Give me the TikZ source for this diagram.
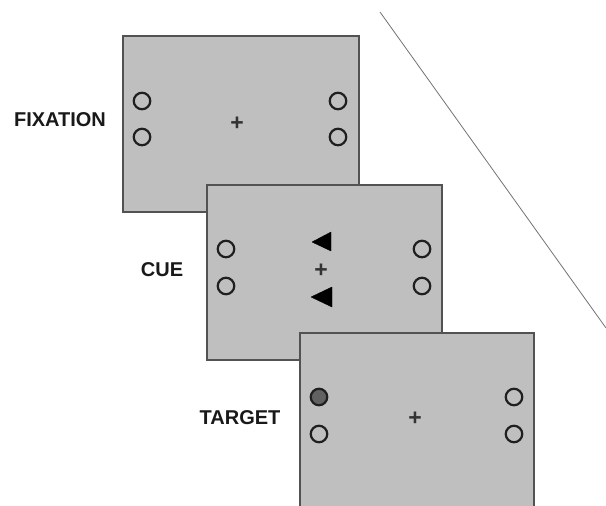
\documentclass[tikz,border=0pt]{standalone}
\usepackage{fontspec}
\setmainfont{Liberation Sans}
\begin{document}
\begin{tikzpicture}[x=1pt,y=-1pt,
  panel/.style={draw=black!68, line width=1.8pt, fill=black!25, rectangle,
    inner sep=0pt, outer sep=0pt},
  ring/.style={draw=black!88, line width=2.2pt, circle, minimum size=16.5pt,
    inner sep=0pt, outer sep=0pt},
  label/.style={font=\fontsize{20}{20}\selectfont\bfseries, text=black!90,
    inner sep=0pt},
  cross/.style={font=\fontsize{23}{23}\selectfont\bfseries, text=black!80, inner sep=0pt},
  arrowhead/.style={fill=black, draw=black, line width=0.4pt, line join=round}]
\useasboundingbox (0,0) rectangle (606,506);
\clip (0,0) rectangle (606,506);
\fill[white] (0,0) rectangle (606,506);

% diagonal separator line
\coordinate (lineA) at (380,12);
\coordinate (lineB) at (606,328);
\draw[black!55, line width=0.8pt] (lineA) -- (lineB);

% FIXATION screen
\node[panel, minimum width=236pt, minimum height=176pt] (fixp) at (241,124) {};
\node[ring] (f1) at (142,101) {};
\node[ring] (f2) at (142,137) {};
\node[ring] (f3) at (338,101) {};
\node[ring] (f4) at (338,137) {};
\node[cross] (fx) at (237,124) {+};
\node[label] (flab) at (60,120) {FIXATION};

% CUE screen
\node[panel, minimum width=235pt, minimum height=175pt] (cuep) at (324.5,272.5) {};
\node[ring] (c1) at (226,249) {};
\node[ring] (c2) at (226,286) {};
\node[ring] (c3) at (422,249) {};
\node[ring] (c4) at (422,286) {};
\node[cross] (cx) at (321,271) {+};
\fill[arrowhead] (312,242) -- (331,232) -- (331,251) -- cycle;
\fill[arrowhead] (311,297) -- (332,287) -- (332,307) -- cycle;
\node[label] (clab) at (162,270) {CUE};

% TARGET screen
\node[panel, minimum width=234pt, minimum height=190pt] (tarp) at (417,428) {};
\node[ring, fill=black!62] (t1) at (319,397) {};
\node[ring] (t2) at (319,434) {};
\node[ring] (t3) at (514,397) {};
\node[ring] (t4) at (514,434) {};
\node[cross] (tx) at (415,419) {+};
\node[label] (tlab) at (240,418) {TARGET};
\end{tikzpicture}
\end{document}
